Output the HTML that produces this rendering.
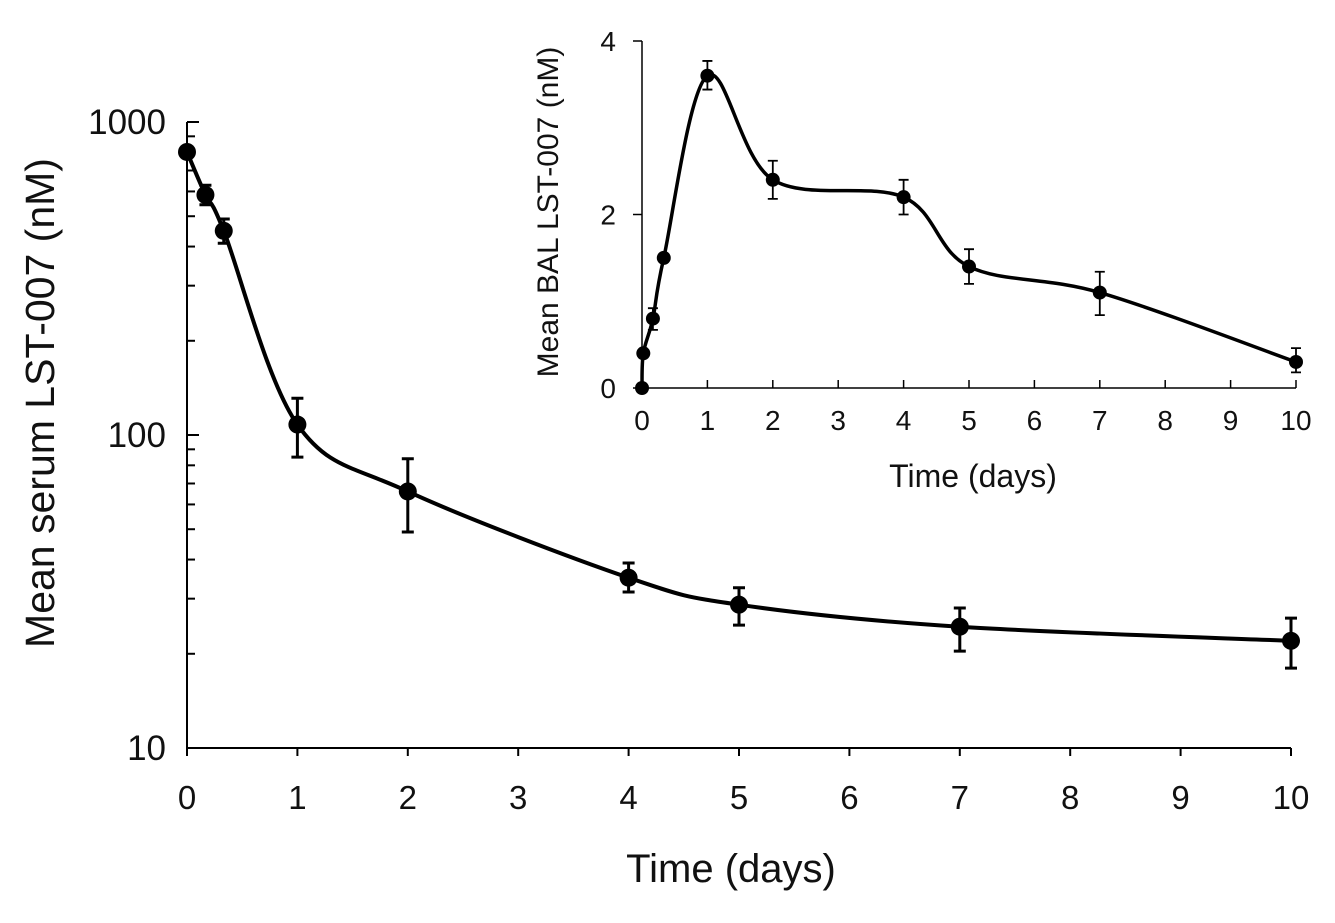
<!DOCTYPE html>
<html><head><meta charset="utf-8"><style>
body{margin:0;background:#fff}
svg text{font-family:"Liberation Sans",Arial,sans-serif;fill:#111}
</style></head><body>
<svg id="chart" width="1335" height="918" xmlns="http://www.w3.org/2000/svg"></svg>
<script>
// Main chart data (serum)
const mainTimes = [0, 0.167, 0.333, 1, 2, 4, 5, 7, 10];
const mainValues = [802, 585, 449, 108, 66, 35, 28.7, 24.4, 22];
const mainUpper = [null, 628, 490, 131, 84, 39, 32.5, 28, 26];
const mainLower = [null, 544, 410, 85, 49, 31.5, 24.7, 20.4, 18];
const mainXTicks = [0,1,2,3,4,5,6,7,8,9,10];
const mainYTicks = [10,100,1000];
// Inset data (BAL)
const insetTimes = [0, 0.02, 0.167, 0.333, 1, 2, 4, 5, 7, 10];
const insetValues = [0, 0.4, 0.8, 1.5, 3.6, 2.4, 2.2, 1.4, 1.1, 0.3];
const insetUpper = [null, null, 0.92, null, 3.77, 2.62, 2.4, 1.6, 1.34, 0.46];
const insetLower = [null, null, 0.67, null, 3.44, 2.18, 2.0, 1.2, 0.84, 0.18];
const insetXTicks = [0,1,2,3,4,5,6,7,8,9,10];
const insetYTicks = [0,2,4];

const svg = document.getElementById('chart');
const NS = 'http://www.w3.org/2000/svg';
function mk(tag, attrs, parent){const e=document.createElementNS(NS,tag);for(const k in attrs)e.setAttribute(k,attrs[k]);(parent||svg).appendChild(e);return e;}

const mx = t => 187 + t*110.4;
const my = v => 748 - (Math.log10(v)-1)*313;
const ix = t => 642 + t*65.4;
const iy = v => 388 - v*86.75;

function spline(pts){
  let d = `M${pts[0][0]},${pts[0][1]}`;
  for(let i=0;i<pts.length-1;i++){
    const p0=pts[Math.max(0,i-1)],p1=pts[i],p2=pts[i+1],p3=pts[Math.min(pts.length-1,i+2)];
    const c1=[p1[0]+(p2[0]-p0[0])/6,p1[1]+(p2[1]-p0[1])/6];
    const c2=[p2[0]-(p3[0]-p1[0])/6,p2[1]-(p3[1]-p1[1])/6];
    d+=` C${c1[0]},${c1[1]} ${c2[0]},${c2[1]} ${p2[0]},${p2[1]}`;
  }
  return d;
}

// ---- Main axes
let g = mk('g',{});


mk('line',{x1:187,y1:122,x2:187,y2:748,stroke:'#000','stroke-width':2},g);
mk('line',{x1:187,y1:748,x2:1291,y2:748,stroke:'#000','stroke-width':2},g);
mainYTicks.forEach(v=>{
  mk('line',{x1:187,y1:my(v),x2:199,y2:my(v),stroke:'#000','stroke-width':2},g);
  const t=mk('text',{x:166,y:my(v)+12,'font-size':35,'text-anchor':'end'},g);t.textContent=v;
  
  
});
[10,100].forEach(b=>{for(let k=2;k<=9;k++){const y=my(b*k);mk('line',{x1:187,y1:y,x2:195,y2:y,stroke:'#000','stroke-width':2},g);}});
mainXTicks.forEach(t=>{
  mk('line',{x1:mx(t),y1:748,x2:mx(t),y2:756,stroke:'#000','stroke-width':2},g);
  const tx=mk('text',{x:mx(t),y:809,'font-size':33,'text-anchor':'middle'},g);tx.textContent=t;
  
  
});
let tt=mk('text',{x:731,y:882,'font-size':40,'text-anchor':'middle'});tt.textContent='Time (days)';


tt=mk('text',{x:54,y:403,'font-size':41,'text-anchor':'middle',transform:'rotate(-90 54 403)'});tt.textContent='Mean serum  LST-007 (nM)';



// main series
let line=mk('path',{d:spline(mainTimes.map((t,i)=>[mx(t),my(mainValues[i])])),fill:'none',stroke:'#000','stroke-width':4});


mainTimes.forEach((t,i)=>{
  if(mainUpper[i]!=null){
    const e=mk('path',{d:`M${mx(t)},${my(mainUpper[i])}V${my(mainLower[i])}M${mx(t)-6},${my(mainUpper[i])}h12M${mx(t)-6},${my(mainLower[i])}h12`,stroke:'#000','stroke-width':3,fill:'none'});
    
    
  }
  const c=mk('circle',{cx:mx(t),cy:my(mainValues[i]),r:9,fill:'#000'});
  
  
});

// ---- Inset
g = mk('g',{});


mk('line',{x1:642,y1:41,x2:642,y2:388,stroke:'#000','stroke-width':1.5},g);
mk('line',{x1:642,y1:388,x2:1296,y2:388,stroke:'#000','stroke-width':1.5},g);
insetYTicks.forEach(v=>{
  mk('line',{x1:633,y1:iy(v),x2:642,y2:iy(v),stroke:'#000','stroke-width':1.5},g);
  const t=mk('text',{x:616,y:iy(v)+10,'font-size':28,'text-anchor':'end'},g);t.textContent=v;
  
  
});
insetXTicks.forEach(t=>{
  mk('line',{x1:ix(t),y1:380,x2:ix(t),y2:388,stroke:'#000','stroke-width':1.5},g);
  const tx=mk('text',{x:ix(t),y:430,'font-size':28,'text-anchor':'middle'},g);tx.textContent=t;
  
  
});
tt=mk('text',{x:973,y:487,'font-size':32,'text-anchor':'middle'});tt.textContent='Time (days)';


tt=mk('text',{x:558,y:212,'font-size':30,'text-anchor':'middle',transform:'rotate(-90 558 212)'});tt.textContent='Mean BAL LST-007 (nM)';



line=mk('path',{d:spline(insetTimes.map((t,i)=>[ix(t),iy(insetValues[i])])),fill:'none',stroke:'#000','stroke-width':3.5});


insetTimes.forEach((t,i)=>{
  if(insetUpper[i]!=null){
    const e=mk('path',{d:`M${ix(t)},${iy(insetUpper[i])}V${iy(insetLower[i])}M${ix(t)-5},${iy(insetUpper[i])}h10M${ix(t)-5},${iy(insetLower[i])}h10`,stroke:'#000','stroke-width':1.8,fill:'none'});
    
    
  }
  const c=mk('circle',{cx:ix(t),cy:iy(insetValues[i]),r:7,fill:'#000'});
  
  
});
</script>
</body></html>
